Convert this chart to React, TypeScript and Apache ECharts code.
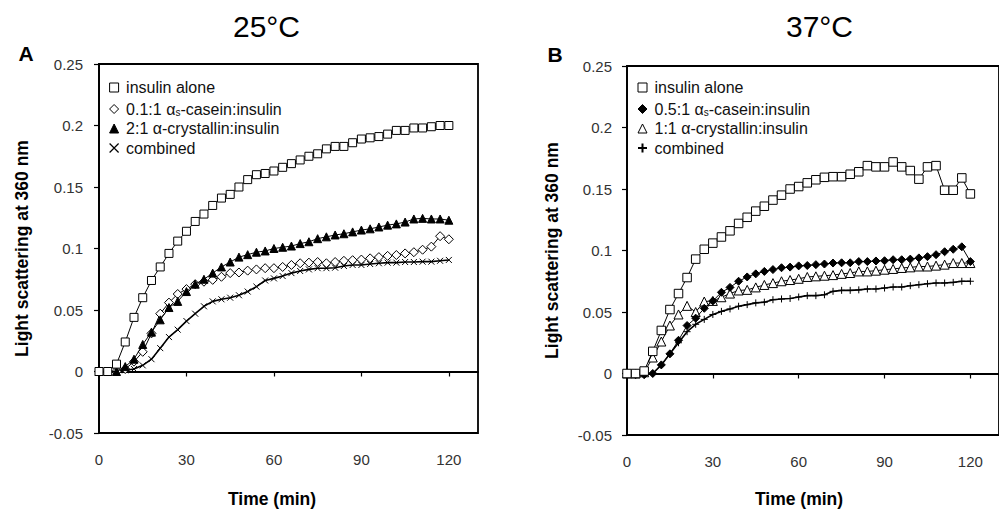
import React, { useEffect, useRef } from "react";
import * as echarts from "echarts";

// ---- data ----
const TIME_MIN = [0, 3, 6, 9, 12, 15, 18, 21, 24, 27, 30, 33, 36, 39, 42, 45, 48, 51, 54, 57, 60, 63, 66, 69, 72, 75, 78, 81, 84, 87, 90, 93, 96, 99, 102, 105, 108, 111, 114, 117, 120];

const X_TICKS = [0, 30, 60, 90, 120];
const PANEL_TITLES = ["25°C", "37°C"];
const PANEL_LETTERS = ["A", "B"];
const Y_NAME = "Light scattering at 360 nm";
const X_NAME = "Time (min)";

// Panel A (25 °C)
const A_NAMES = ["insulin alone", "0.1:1 αs-casein:insulin", "2:1 α-crystallin:insulin", "combined"];
const A_INSULIN = [0, 0, 0.006, 0.024, 0.044, 0.06, 0.074, 0.085, 0.096, 0.106, 0.114, 0.122, 0.128, 0.135, 0.141, 0.144, 0.15, 0.156, 0.16, 0.161, 0.163, 0.166, 0.169, 0.172, 0.175, 0.177, 0.181, 0.183, 0.183, 0.186, 0.189, 0.19, 0.191, 0.193, 0.196, 0.196, 0.198, 0.198, 0.199, 0.2, 0.2];
const A_CASEIN = [0, 0, 0, 0.002, 0.008, 0.016, 0.031, 0.047, 0.056, 0.063, 0.067, 0.071, 0.073, 0.0745, 0.077, 0.08, 0.0805, 0.082, 0.083, 0.084, 0.084, 0.085, 0.0866, 0.088, 0.0885, 0.089, 0.088, 0.089, 0.09, 0.0905, 0.091, 0.092, 0.093, 0.094, 0.0947, 0.096, 0.097, 0.099, 0.1015, 0.11, 0.1075];
const A_CRYSTALLIN = [0, 0, 0, 0.004, 0.01, 0.022, 0.032, 0.042, 0.052, 0.057, 0.065, 0.071, 0.075, 0.08, 0.085, 0.089, 0.093, 0.095, 0.097, 0.098, 0.1, 0.101, 0.102, 0.104, 0.1055, 0.108, 0.1095, 0.111, 0.112, 0.1135, 0.115, 0.116, 0.1175, 0.119, 0.12, 0.1215, 0.124, 0.1245, 0.124, 0.124, 0.123];
const A_COMBINED = [0, 0, 0, 0.001, 0.002, 0.005, 0.01, 0.019, 0.028, 0.034, 0.041, 0.047, 0.053, 0.057, 0.0587, 0.06, 0.062, 0.065, 0.069, 0.074, 0.0757, 0.0776, 0.08, 0.0817, 0.083, 0.084, 0.084, 0.0844, 0.0858, 0.0866, 0.0866, 0.0874, 0.088, 0.0885, 0.0885, 0.089, 0.089, 0.0893, 0.0893, 0.09, 0.0907];

// Panel B (37 °C)
const B_NAMES = ["insulin alone", "0.5:1 αs-casein:insulin", "1:1 α-crystallin:insulin", "combined"];
const B_INSULIN = [0, 0, 0.002, 0.018, 0.035, 0.052, 0.065, 0.078, 0.093, 0.101, 0.106, 0.111, 0.116, 0.122, 0.127, 0.132, 0.136, 0.141, 0.145, 0.15, 0.152, 0.155, 0.1575, 0.1595, 0.16, 0.16, 0.162, 0.164, 0.169, 0.168, 0.168, 0.172, 0.168, 0.165, 0.158, 0.168, 0.169, 0.149, 0.149, 0.159, 0.146];
const B_CASEIN = [0, -0.001, -0.001, 0, 0.007, 0.016, 0.027, 0.039, 0.045, 0.053, 0.059, 0.066, 0.07, 0.075, 0.0785, 0.081, 0.083, 0.0845, 0.086, 0.0865, 0.0875, 0.0878, 0.0885, 0.089, 0.0898, 0.09, 0.09, 0.091, 0.091, 0.0915, 0.0917, 0.0925, 0.0925, 0.093, 0.094, 0.095, 0.0966, 0.099, 0.101, 0.103, 0.091];
const B_CRYSTALLIN = [0, 0, 0.001, 0.013, 0.026, 0.039, 0.048, 0.055, 0.05, 0.0585, 0.059, 0.062, 0.065, 0.0675, 0.068, 0.07, 0.072, 0.0735, 0.075, 0.076, 0.077, 0.0785, 0.079, 0.0795, 0.08, 0.081, 0.0817, 0.083, 0.083, 0.0836, 0.0844, 0.085, 0.0858, 0.0863, 0.087, 0.087, 0.0877, 0.0885, 0.0898, 0.0898, 0.0898];
const B_COMBINED = [0, 0, 0, 0, 0.007, 0.016, 0.025, 0.034, 0.04, 0.044, 0.048, 0.0505, 0.0525, 0.0547, 0.056, 0.0574, 0.058, 0.06, 0.0606, 0.061, 0.0622, 0.0633, 0.0633, 0.064, 0.0668, 0.0676, 0.0676, 0.068, 0.0687, 0.0687, 0.0695, 0.0703, 0.0703, 0.0714, 0.0722, 0.073, 0.0736, 0.0736, 0.0741, 0.075, 0.075];

// ---- styling ----
const FONT = "'Liberation Sans', Arial, Helvetica, sans-serif";
const SQ = "path://M0,0H10V10H0Z";
const DIA = "path://M5,0L10,5L5,10L0,5Z";
const TRI = "path://M5,0L10,10L0,10Z";
const CROSS = "path://M0,0L10,10M10,0L0,10";
const PLUS = "path://M5,0V10M0,5H10";

const hollow = { color: "#fff", borderColor: "#000", borderWidth: 1 };
const solid = { color: "#000", borderColor: "#000", borderWidth: 1 };
const stroke = { color: "#000", borderColor: "#000", borderWidth: 1.2 };

function pairs(values: number[]) {
  return TIME_MIN.map((t, i) => [t, values[i]]);
}

function line(name: string, id: string, idx: number, values: number[], symbol: string, size: number, itemStyle: any, width: number, z: number) {
  return {
    type: "line",
    id,
    name,
    xAxisIndex: idx,
    yAxisIndex: idx,
    data: pairs(values),
    symbol,
    symbolSize: size,
    symbolKeepAspect: true,
    showAllSymbol: true,
    itemStyle,
    lineStyle: { color: "#000", width },
    emphasis: { disabled: true },
    z,
  };
}

function legend(left: number, top: number, names: string[], icons: string[], styles: any[]) {
  return {
    orient: "vertical",
    left,
    top,
    padding: 0,
    itemGap: 3.5,
    itemWidth: 14,
    itemHeight: 9,
    selectedMode: false,
    symbolKeepAspect: true,
    data: names.map((n, i) => ({ name: n, icon: icons[i], itemStyle: styles[i] })),
    formatter: (n: string) => n.replace("αs-", "α{sub|s}-"),
    textStyle: {
      fontFamily: FONT,
      fontSize: 16,
      color: "#111",
      lineHeight: 16,
      rich: { sub: { fontSize: 10, fontFamily: FONT, color: "#111", verticalAlign: "bottom", lineHeight: 10, padding: [8, 0, 0, 0] } },
    },
  };
}

function xAxis(idx: number, nameGap: number, padRight: number) {
  return {
    type: "value",
    gridIndex: idx,
    min: 0,
    max: 130,
    interval: 30,
    name: X_NAME,
    nameLocation: "middle",
    nameGap,
    nameTextStyle: { fontFamily: FONT, fontSize: 17.5, fontWeight: "bold", color: "#000", padding: [0, padRight, 0, 0] },
    axisLine: { show: true, lineStyle: { color: "#000", width: 1.8 } },
    axisTick: { show: true, length: 5, inside: false, lineStyle: { color: "#000", width: 1.2 }, customValues: X_TICKS },
    axisLabel: { fontFamily: FONT, fontSize: 15, color: "#333", margin: 18.5, customValues: X_TICKS },
    splitLine: { show: false },
  };
}

function yAxis(idx: number, nameGap: number, margin: number) {
  return {
    type: "value",
    gridIndex: idx,
    min: -0.05,
    max: 0.25,
    interval: 0.05,
    name: Y_NAME,
    nameLocation: "middle",
    nameRotate: 90,
    nameGap,
    nameTextStyle: { fontFamily: FONT, fontSize: 17.5, fontWeight: "bold", color: "#000" },
    axisLine: { show: true, lineStyle: { color: "#000", width: 1.8 } },
    axisTick: { show: true, length: 5, inside: false, lineStyle: { color: "#000", width: 1.2 } },
    axisLabel: { fontFamily: FONT, fontSize: 15, color: "#333", margin },
    splitLine: { show: false },
  };
}

export default function App() {
  const ref = useRef<HTMLDivElement>(null);
  useEffect(() => {
    if (!ref.current) return;
    const chart = echarts.init(ref.current, null, { renderer: "svg" });
    chart.setOption({
      animation: false,
      backgroundColor: "#fff",
      textStyle: { fontFamily: FONT },
      title: [
        { text: PANEL_TITLES[0], left: 233, top: 11, padding: 0, textStyle: { fontFamily: FONT, fontSize: 30, fontWeight: "normal", color: "#000" } },
        { text: PANEL_TITLES[1], left: 786, top: 11, padding: 0, textStyle: { fontFamily: FONT, fontSize: 30, fontWeight: "normal", color: "#000" } },
      ],
      graphic: [
        { type: "text", x: 26, y: 53, style: { text: PANEL_LETTERS[0], font: `bold 21px ${FONT}`, fill: "#000", align: "center", verticalAlign: "middle" } },
        { type: "text", x: 555, y: 54.5, style: { text: PANEL_LETTERS[1], font: `bold 21px ${FONT}`, fill: "#000", align: "center", verticalAlign: "middle" } },
      ],
      grid: [
        { left: 99, top: 64, width: 379, height: 369, show: true, borderColor: "#000", borderWidth: 1.8, backgroundColor: "transparent", containLabel: false },
        { left: 627, top: 66, width: 380, height: 371, show: true, borderColor: "#000", borderWidth: 1.8, backgroundColor: "transparent", containLabel: false },
      ],
      xAxis: [xAxis(0, 57, 33), xAxis(1, 55, 28)],
      yAxis: [yAxis(0, 68, 16), yAxis(1, 66, 15)],
      legend: [
        legend(109, 79.5, A_NAMES, [SQ, DIA, TRI, CROSS], [hollow, hollow, solid, stroke]),
        legend(637, 79.5, B_NAMES, [SQ, DIA, TRI, PLUS], [hollow, solid, hollow, { color: "#000", borderColor: "#000", borderWidth: 2 }]),
      ],
      series: [
        line(A_NAMES[3], "a-combined", 0, A_COMBINED, CROSS, 6, { color: "#000", borderColor: "#000", borderWidth: 1 }, 1.6, 2),
        line(A_NAMES[1], "a-casein", 0, A_CASEIN, DIA, 9, hollow, 1, 3),
        line(A_NAMES[2], "a-crystallin", 0, A_CRYSTALLIN, TRI, 8, solid, 1, 4),
        line(A_NAMES[0], "a-insulin", 0, A_INSULIN, SQ, 8, hollow, 1, 5),
        line(B_NAMES[3], "b-combined", 1, B_COMBINED, PLUS, 7, { color: "#000", borderColor: "#000", borderWidth: 1 }, 1.6, 2),
        line(B_NAMES[2], "b-crystallin", 1, B_CRYSTALLIN, TRI, 9, hollow, 1, 3),
        line(B_NAMES[1], "b-casein", 1, B_CASEIN, DIA, 8, solid, 1, 4),
        line(B_NAMES[0], "b-insulin", 1, B_INSULIN, SQ, 8.5, hollow, 1, 5),
      ],
    });
    return () => chart.dispose();
  }, []);
  return <div ref={ref} style={{ position: "fixed", left: 0, top: 0, width: 999, height: 513, background: "#fff" }} />;
}
